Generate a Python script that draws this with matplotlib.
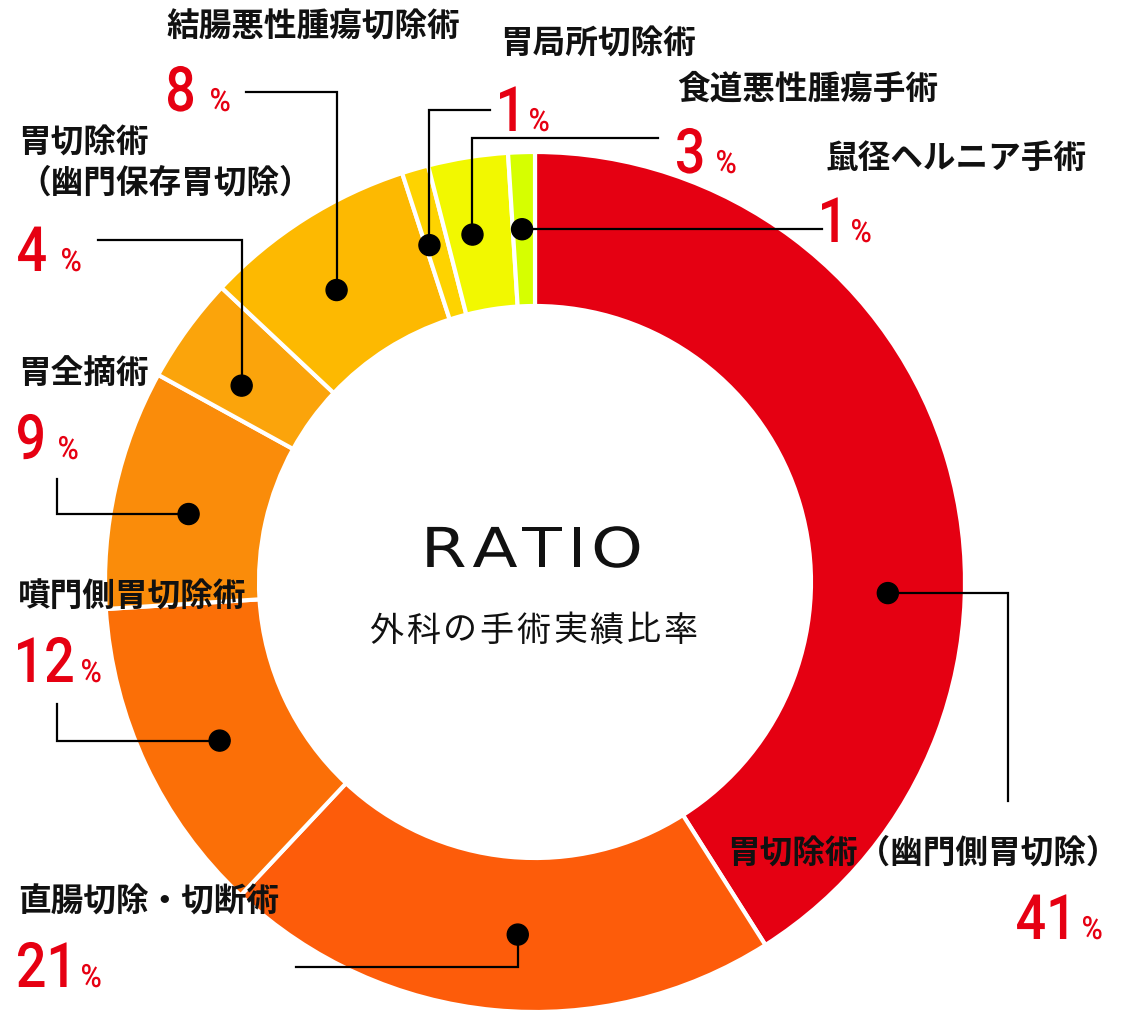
import numpy as np
import matplotlib.pyplot as plt
from matplotlib.patches import Circle, PathPatch
from matplotlib.textpath import TextPath
from matplotlib.font_manager import FontProperties
from matplotlib.transforms import Affine2D

W, H = 1124, 1012

# data, clockwise from 12 o'clock
names = ['胃切除術（幽門側胃切除）', '直腸切除・切断術', '噴門側胃切除術', '胃全摘術',
         '胃切除術\n（幽門保存胃切除）', '結腸悪性腫瘍切除術', '胃局所切除術',
         '食道悪性腫瘍手術', '鼠径ヘルニア手術']
values = [41, 21, 12, 9, 4, 8, 1, 3, 1]
colors = ['#e50012', '#fd5c0a', '#fb6f07', '#fa8c0a', '#fba40b',
          '#fdb901', '#fed300', '#f2f800', '#d6ff00']

# layout in pixels (y measured from the top)
cx, cy = 535, 583
r_out, r_in = 430, 276
dot_shift = [18, -2.6, -1.5, -1.5, -2.2, -1.8, -1.2, -1.2, -0.3]   # degrees clockwise
# leader: ('h', x_elbow, y_end) or ('v', y_elbow, x_end)
leaders = [('h', 1008, 802), ('v', 968, 296), ('h', 57, 705), ('h', 57, 480),
           ('v', 241, 98), ('v', 93, 246), ('v', 111, 490), ('v', 139, 658),
           ('h', 822, None)]
name_pos = [(727, 853), (18, 902), (18, 597), (18, 373), (18, 143),
            (166, 27), (500, 44), (677, 89), (826, 158)]
# left edge of digits, baseline
num_pos = [(1017, 940), (18, 988), (18, 683), (18, 460), (18, 272),
           (168, 112), (500, 132), (677, 174), (822, 243)]
pct_x = [1083, 82, 82, 59, 62, 211, 530, 717, 852]

RED = '#e60012'
JP = ['Noto Sans CJK JP', 'DejaVu Sans']
NUM_FONT = FontProperties(family='Roboto', weight='medium')


def Y(y):
    return H - y


def path_text(ax, x_left, y_base, s, size, sx, color, prop, x_center=None):
    tp = TextPath((0, 0), s, size=size, prop=prop)
    ext = tp.get_extents()
    if x_center is not None:
        tx = x_center - (ext.x0 + ext.width / 2) * sx
    else:
        tx = x_left - ext.x0 * sx
    tr = Affine2D().scale(sx, 1).translate(tx, Y(y_base))
    ax.add_patch(PathPatch(tr.transform_path(tp), fc=color, lw=0, zorder=5))


fig = plt.figure(figsize=(W / 100, H / 100), dpi=100)
ax = fig.add_axes([0, 0, 1, 1])

wedges, _ = ax.pie(values, colors=colors, radius=r_out, center=(cx, Y(cy)),
                   startangle=90, counterclock=False,
                   wedgeprops=dict(width=r_out - r_in, edgecolor='white', linewidth=3))
ax.set_xlim(0, W)
ax.set_ylim(0, H)
ax.set_aspect('equal')
ax.axis('off')

r_dot = (r_out + r_in) / 2
for i, w in enumerate(wedges):
    ang = np.radians((w.theta1 + w.theta2) / 2 - dot_shift[i])
    dx = cx + r_dot * np.cos(ang)
    dy = Y(cy) + r_dot * np.sin(ang)
    mode, a, b = leaders[i]
    if mode == 'h':
        end_y = dy if b is None else Y(b)
        xs, ys = [dx, a, a], [dy, dy, end_y]
    else:
        xs, ys = [dx, dx, b], [dy, Y(a), Y(a)]
    ax.plot(xs, ys, color='black', lw=1.6, solid_joinstyle='miter', zorder=3)
    ax.add_patch(Circle((dx, dy), 10.5, color='black', zorder=4))

    # name
    nx, ny = name_pos[i]
    for k, line in enumerate(names[i].split('\n')):
        ax.text(nx, Y(ny + 40 * k), line, family=JP, fontweight='bold',
                fontsize=23.5, ha='left', va='center', color='#111111', zorder=5)
    # number + percent
    px, py = num_pos[i]
    path_text(ax, px, py, str(values[i]), 62.5, 0.86, RED, NUM_FONT)
    path_text(ax, pct_x[i], py, '%', 32, 0.9, RED, NUM_FONT)

# centre titles
ratio_font = FontProperties(family='DejaVu Sans')
for ch, x in zip('RATIO', [446, 495, 542, 577, 617]):
    path_text(ax, None, 568, ch, 55, 1.2, '#111111', ratio_font, x_center=x)
sub = '外科の手術実績比率'
pitch = 36.7
for k, ch in enumerate(sub):
    ax.text(368 + pitch / 2 + k * pitch, Y(631), ch, family=JP, fontsize=24.5,
            color='#111111', ha='center', va='center')

fig.savefig('out.png', dpi=100, facecolor='white')
